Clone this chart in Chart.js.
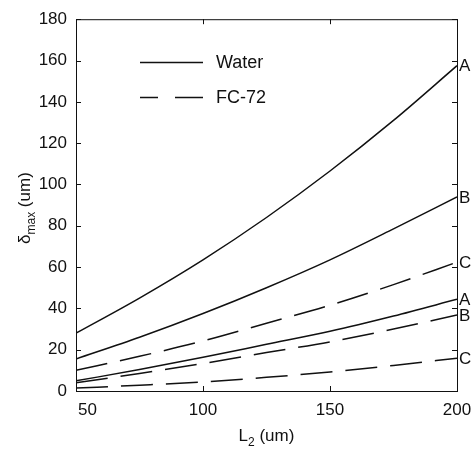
<!DOCTYPE html>
<html>
<head>
<meta charset="utf-8">
<script src="https://cdn.jsdelivr.net/npm/chart.js@4.4.1/dist/chart.umd.min.js"></script>
<style>
  body { margin: 0; background: #fff; }
  #wrap { width: 476px; height: 450px; }
</style>
</head>
<body>
<div id="wrap"><canvas id="deltaChart" width="476" height="450"></canvas></div>
<script>
// L2 values (um) and delta_max curves (um)
const lengths = [50, 75, 100, 125, 150, 175, 200];
const waterA = [28, 45, 63.5, 84, 106.5, 131, 157.5];
const waterB = [15.5, 26, 37.5, 50, 63.5, 78.5, 94];
const fcUpper = [10, 16.8, 24.2, 32.8, 41.5, 51.5, 62.4];
const waterLow = [4.9, 10.4, 16.3, 22.6, 28.9, 36.3, 44.4];
const fcMid = [4, 8.5, 13.3, 18.6, 23.8, 30, 36.8];
const fcLow = [1.4, 2.8, 4.4, 6.6, 9.2, 12.4, 15.9];
const curveLabels = ['A', 'B', 'C', 'A', 'B', 'C'];
const xTicks = [50, 100, 150, 200];
const yTicks = [0, 20, 40, 60, 80, 100, 120, 140, 160, 180];

const FONT = '"Liberation Sans", Arial, sans-serif';
const DASH = [32, 13];

function series(label, values, dashed) {
    return {
        label: label,
        data: values.map((v, i) => ({ x: lengths[i], y: v })),
        borderColor: '#111',
        borderWidth: 1.5,
        borderDash: dashed ? DASH : [],
        pointRadius: 0,
        cubicInterpolationMode: 'monotone',
        fill: false,
    };
}

// frame, inward ticks, titles, legend and the A/B/C curve labels
const decorations = {
    id: 'decorations',
    afterDraw(chart) {
        const ctx = chart.ctx;
        const a = chart.chartArea;
        const xs = chart.scales.x;
        const ys = chart.scales.y;
        ctx.save();
        ctx.strokeStyle = '#111';
        ctx.lineWidth = 1;
        ctx.strokeRect(a.left + 0.5, a.top + 0.5, a.right - a.left, a.bottom - a.top);

        ctx.beginPath();
        yTicks.forEach(v => {
            const y = Math.round(ys.getPixelForValue(v)) + 0.5;
            ctx.moveTo(a.left, y); ctx.lineTo(a.left + 5, y);
            ctx.moveTo(a.right, y); ctx.lineTo(a.right - 5, y);
        });
        xTicks.forEach(v => {
            const x = Math.round(xs.getPixelForValue(v)) + 0.5;
            ctx.moveTo(x, a.bottom); ctx.lineTo(x, a.bottom - 5);
            ctx.moveTo(x, a.top); ctx.lineTo(x, a.top + 5);
        });
        ctx.stroke();

        ctx.fillStyle = '#111';
        ctx.font = '17px ' + FONT;
        ctx.textBaseline = 'top';
        xTicks.forEach((v, i) => {
            const x = xs.getPixelForValue(v);
            ctx.textAlign = i === 0 ? 'left' : 'center';
            ctx.fillText(String(v), i === 0 ? x + 2 : x, a.bottom + 11);
        });

        // x title: L2 (um)
        ctx.textBaseline = 'alphabetic';
        ctx.textAlign = 'left';
        ctx.font = '17px ' + FONT;
        const wL = ctx.measureText('L').width;
        ctx.font = '12px ' + FONT;
        const w2 = ctx.measureText('2').width;
        ctx.font = '17px ' + FONT;
        const wRest = ctx.measureText(' (um)').width;
        let tx = (a.left + a.right) / 2 - (wL + w2 + wRest) / 2;
        const ty = 441;
        ctx.fillText('L', tx, ty);
        ctx.font = '12px ' + FONT;
        ctx.fillText('2', tx + wL, ty + 5);
        ctx.font = '17px ' + FONT;
        ctx.fillText(' (um)', tx + wL + w2, ty);

        // y title: delta_max (um)
        ctx.save();
        ctx.translate(30, (a.top + a.bottom) / 2 + 3);
        ctx.rotate(-Math.PI / 2);
        const wd = ctx.measureText('\u03b4').width;
        ctx.font = '12px ' + FONT;
        const wm = ctx.measureText('max').width;
        ctx.font = '17px ' + FONT;
        const wu = ctx.measureText(' (um)').width;
        let sx = -(wd + wm + wu) / 2;
        ctx.fillText('\u03b4', sx, 0);
        ctx.font = '12px ' + FONT;
        ctx.fillText('max', sx + wd, 5);
        ctx.font = '17px ' + FONT;
        ctx.fillText(' (um)', sx + wd + wm, 0);
        ctx.restore();

        // legend
        ctx.lineWidth = 1.5;
        ctx.beginPath();
        ctx.moveTo(140, 62.5); ctx.lineTo(203, 62.5);
        ctx.stroke();
        ctx.setLineDash([18, 17, 28, 17]);
        ctx.beginPath();
        ctx.moveTo(140, 97.5); ctx.lineTo(203, 97.5);
        ctx.stroke();
        ctx.setLineDash([]);
        ctx.font = '18px ' + FONT;
        ctx.textBaseline = 'middle';
        ctx.fillText('Water', 216, 63);
        ctx.fillText('FC-72', 216, 98);

        // curve end labels
        ctx.font = '17px ' + FONT;
        chart.data.datasets.forEach((ds, i) => {
            const last = ds.data[ds.data.length - 1];
            ctx.fillText(curveLabels[i], a.right + 2, ys.getPixelForValue(last.y) + 1);
        });
        ctx.restore();
    }
};

const ctx = document.getElementById('deltaChart').getContext('2d');
new Chart(ctx, {
    type: 'line',
    data: {
        datasets: [
            series('Water A', waterA, false),
            series('Water B', waterB, false),
            series('FC-72 C', fcUpper, true),
            series('Water A2', waterLow, false),
            series('FC-72 B', fcMid, true),
            series('FC-72 C2', fcLow, true),
        ]
    },
    options: {
        responsive: false,
        animation: false,
        layout: { padding: { top: 11, right: 19, left: 0, bottom: 0 } },
        plugins: {
            legend: { display: false },
            tooltip: { enabled: false },
        },
        scales: {
            x: {
                type: 'linear',
                min: 50,
                max: 200,
                afterFit(scale) { scale.height = 59; },
                grid: { display: false },
                border: { display: false },
                ticks: { display: false, stepSize: 50 },
            },
            y: {
                min: 0,
                max: 180,
                afterFit(scale) { scale.width = 76; },
                grid: { display: false, drawTicks: false },
                border: { display: false },
                ticks: {
                    stepSize: 20,
                    padding: 9,
                    color: '#111',
                    font: { family: FONT, size: 17 },
                },
            },
        },
    },
    plugins: [decorations],
});
</script>
</body>
</html>
